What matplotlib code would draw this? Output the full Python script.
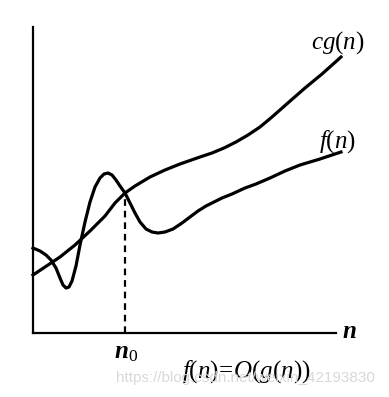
import matplotlib
matplotlib.use("Agg")
import matplotlib.pyplot as plt
import numpy as np

# curve points, in pixels (x right, y down) of the 389x397 image
f_px = [33, 40, 46, 51, 56, 60, 63, 66, 69, 72, 76, 80, 85, 90, 95, 100, 104, 108, 112, 116, 120, 125,
        130, 135, 140, 146, 152, 158, 165, 173, 182, 190, 198, 206, 214, 222, 232, 245, 256, 270, 285,
        300, 320, 341]
f_py = [248, 251, 255, 260, 268, 278, 285, 288, 287, 281, 266, 245, 222, 202, 187, 178, 174, 173, 175, 180, 186, 193,
        203, 213, 222, 229, 232, 233, 232, 229, 223, 217, 211, 206, 202, 198, 194, 188, 184, 178, 171,
        165, 159, 152]
cg_px = [33, 45, 60, 75, 90, 105, 115, 125, 135, 150, 165, 180, 200, 212, 224, 236, 248, 260, 272, 289,
         305, 322, 341]
cg_py = [275, 267, 257, 245, 231, 216, 203, 193, 186, 177, 170, 164, 157, 153, 148, 142, 135, 127, 117, 102,
         88, 74, 57]
n0_px = 125

# origin of the axes in the picture
X0, Y0 = 33, 333
f_x = np.array(f_px) - X0
f_y = Y0 - np.array(f_py)
cg_x = np.array(cg_px) - X0
cg_y = Y0 - np.array(cg_py)
n0 = n0_px - X0

plt.rcParams['font.family'] = ['Liberation Serif', 'DejaVu Serif']
plt.rcParams['mathtext.fontset'] = 'custom'
plt.rcParams['mathtext.rm'] = 'Liberation Serif'
plt.rcParams['mathtext.it'] = 'Liberation Serif:italic'
plt.rcParams['mathtext.bf'] = 'Liberation Serif:bold:italic'

fig = plt.figure(figsize=(3.89, 3.97), dpi=100)
ax = fig.add_axes([X0 / 389, (397 - Y0) / 397, 303 / 389, 306 / 397])
ax.set_xlim(0, 303)
ax.set_ylim(0, 306)

ax.plot(f_x, f_y, color='black', lw=2.3, clip_on=False, solid_joinstyle='round')
ax.plot(cg_x, cg_y, color='black', lw=2.3, clip_on=False, solid_joinstyle='round')

# dashed line down from the crossing
y0 = np.interp(n0, cg_x, cg_y)
ax.plot([n0, n0], [0, y0], color='black', lw=1.6, ls=(0, (3, 2.2)))

for s in ['top', 'right']:
    ax.spines[s].set_visible(False)
ax.spines['left'].set_linewidth(1.6)
ax.spines['bottom'].set_linewidth(1.6)
ax.set_xticks([])
ax.set_yticks([])

ax.text(305, 290, '$cg(n)$', fontsize=18, ha='center', va='center')
ax.text(305, 191, '$f(n)$', fontsize=18, ha='center', va='center')
ax.text(316, 1, '$\\mathbf{n}$', fontsize=18, ha='center', va='center')
ax.text(n0 + 1, -20, '$\\mathbf{n}_0$', fontsize=18, ha='center', va='center')
ax.text(213, -39, '$f(n)\\!=\\!O(g(n))$', fontsize=18, ha='center', va='center')

fig.text(245 / 389, 1 - 378 / 397, 'https://blog.csdn.net/weixin_42193830',
         fontsize=11, color='#d8d8d8', family='Liberation Sans', ha='center', va='center')

fig.savefig('out.png', dpi=100)
